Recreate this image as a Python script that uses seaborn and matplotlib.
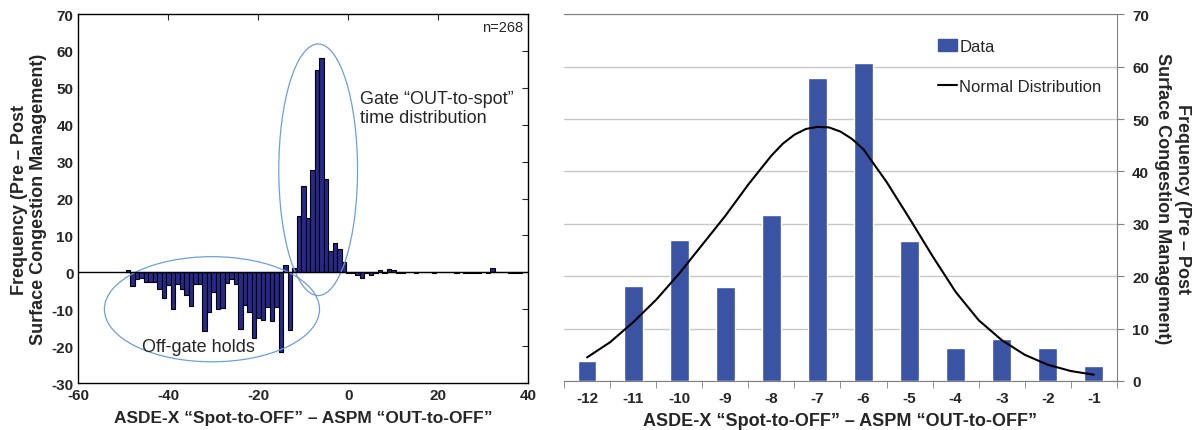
import numpy as np
import seaborn as sns
import matplotlib
matplotlib.use('Agg')
import matplotlib.pyplot as plt
from matplotlib.patches import Ellipse, Patch
from matplotlib.lines import Line2D

# left panel: full histogram of differences (minutes)
diff_bins = list(range(-49, 39))
diff_freq = [0.7, -3.6, -1.8, -1.6, -2.7, -2.5, -2.7, -4.5, -7.0, -3.4,
             -9.9, -3.2, -4.5, -6.1, -9.2, -3.2, -3.2, -16.0, -10.7, -5.2,
             -10.0, -9.8, -3.0, -1.8, -3.2, -15.4, -8.9, -10.7, -17.9, -12.5,
             -12.8, -9.4, -13.2, -9.5, -21.5, 2.0, -15.6, 1.3, 15.4, 23.5,
             14.6, 27.7, 54.8, 58.2, 25.3, 5.8, 7.9, 6.2, 2.9, -0.2,
             -0.3, -0.6, -1.6, -0.3, -0.7, -0.2, 0.5, -0.2, 0.9, 0.7,
             -0.3, -0.3, 0.0, 0.0, -0.3, 0.0, 0.0, 0.0, -0.3, 0.0,
             0.0, 0.0, 0.0, -0.2, 0.0, -0.2, -0.2, -0.2, -0.2, 0.0,
             -0.2, 1.1, 0.0, 0.0, 0.0, -0.2, -0.2, -0.2]

# right panel: gate OUT-to-spot window
gate_bins = list(range(-12, 0))
gate_freq = [3.9, 18.2, 27.0, 18.0, 31.7, 57.8, 60.7, 26.8, 6.3, 8.1, 6.3, 2.8]

# normal fit
curve_x = [-12, -11.5, -11, -10.5, -10, -9.5, -9, -8.5, -8, -7.75, -7.5, -7.25,
           -7, -6.75, -6.5, -6.25, -6, -5.5, -5, -4.5, -4, -3.5, -3, -2.5,
           -2, -1.5, -1]
curve_y = [4.5, 7.4, 11.2, 15.5, 20.5, 26.0, 31.5, 37.5, 43.0, 45.3, 47.0, 48.1,
           48.5, 48.4, 47.6, 46.2, 44.2, 38.0, 31.0, 23.8, 17.0, 11.6, 7.8, 5.0,
           3.1, 1.9, 1.2]

ylabel = 'Frequency (Pre \u2013 Post\nSurface Congestion Management)'
xlabel = 'ASDE-X \u201cSpot-to-OFF\u201d \u2013 ASPM \u201cOUT-to-OFF\u201d'

sns.set_style('white')
plt.rcParams['font.family'] = ['Liberation Sans', 'DejaVu Sans']
plt.rcParams['axes.unicode_minus'] = False

fig = plt.figure(figsize=(12.01, 4.31), dpi=100)
ax1 = fig.add_axes([0.0652, 0.109, 0.3747, 0.856])
ax2 = fig.add_axes([0.4696, 0.1137, 0.4604, 0.851])

# ---- left
sns.barplot(x=diff_bins, y=diff_freq, native_scale=True, width=1.0,
            color='#28288a', edgecolor='black', linewidth=0.8, saturation=1, ax=ax1)
ax1.axhline(0, color='black', lw=1)
ax1.set_xlim(-60, 40)
ax1.set_ylim(-30, 70)
ax1.set_xticks(range(-60, 41, 20))
ax1.set_yticks(range(-30, 71, 10))
ax1.tick_params(direction='in', length=4, top=True, right=True, labelsize=11)
for lab in ax1.get_xticklabels() + ax1.get_yticklabels():
    lab.set_fontweight('bold')
for s in ax1.spines.values():
    s.set_color('black')
    s.set_linewidth(1)
ax1.set_xlabel(xlabel, fontsize=12.5, fontweight='bold', labelpad=6)
ax1.set_ylabel(ylabel, fontsize=13, fontweight='bold', labelpad=3)

ax1.add_patch(Ellipse((-30.3, -10), 47.8, 28.5, fill=False, ec='#6f9fd8', lw=0.9))
ax1.add_patch(Ellipse((-6.7, 27.8), 17.5, 68.2, fill=False, ec='#6f9fd8', lw=0.9))
ax1.text(2.6, 44.5, 'Gate \u201cOUT-to-spot\u201d\ntime distribution', fontsize=13,
         ha='left', va='center', linespacing=1.15)
ax1.text(-33.4, -20, 'Off-gate holds', fontsize=13, ha='center', va='center')
ax1.text(38.8, 68.5, 'n=268', fontsize=10.5, ha='right', va='top')

# ---- right
sns.barplot(x=gate_bins, y=gate_freq, native_scale=True, width=0.41,
            color='#3b53a3', saturation=1, ax=ax2, zorder=3)
sns.lineplot(x=curve_x, y=curve_y, color='black', lw=1.5, ax=ax2, zorder=4)
ax2.set_xlim(-12.5, -0.5)
ax2.set_ylim(0, 70)
ax2.set_yticks(range(0, 71, 10))
ax2.set_xticks(gate_bins)
ax2.set_xticks(np.arange(-12.5, 0, 1.0), minor=True)
ax2.yaxis.tick_right()
ax2.yaxis.set_label_position('right')
ax2.grid(axis='y', color='#c8c8c8', lw=1)
ax2.set_axisbelow(True)
ax2.tick_params(axis='x', which='major', length=0, labelsize=11, pad=7)
ax2.tick_params(axis='x', which='minor', length=5, color='#808080', direction='out', bottom=True)
ax2.tick_params(axis='y', length=5, color='#808080', direction='out', labelsize=11, pad=6)
for lab in ax2.get_xticklabels() + ax2.get_yticklabels():
    lab.set_fontweight('bold')
for side in ['top', 'right', 'bottom']:
    ax2.spines[side].set_color('#808080')
ax2.spines['left'].set_visible(False)
ax2.set_xlabel(xlabel, fontsize=13, fontweight='bold', labelpad=5)
ax2.set_ylabel(ylabel, fontsize=13, fontweight='bold', rotation=270, labelpad=30)

handles = [Patch(color='#3b53a3'), Line2D([], [], color='black', lw=1.5)]
ax2.legend(handles, ['Data', 'Normal Distribution'], loc='upper left',
           bbox_to_anchor=(0.65, 0.973), frameon=False, fontsize=12,
           handlelength=1.1, handletextpad=0.15, labelspacing=1.5)

fig.savefig('out.png', dpi=100)
